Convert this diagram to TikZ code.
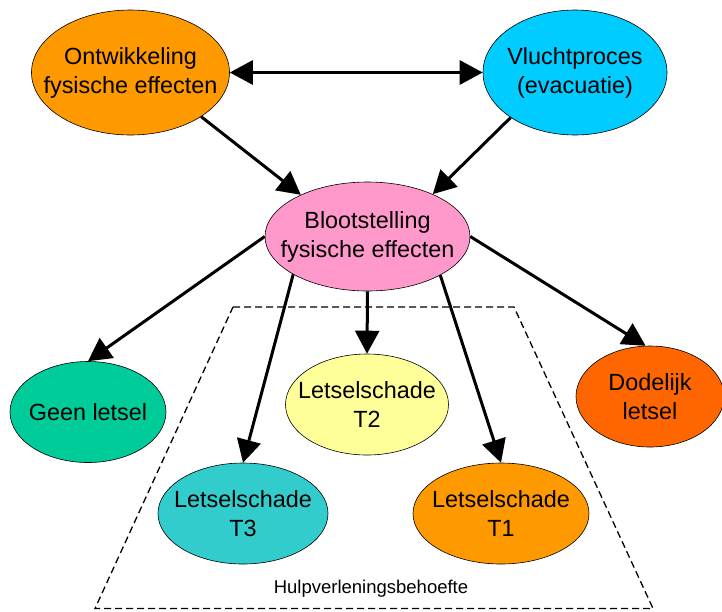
\documentclass[tikz,border=0pt]{standalone}
\usepackage{fontspec}
\setmainfont{Liberation Sans}
\usetikzlibrary{shapes.geometric,arrows.meta}
\definecolor{ontwcol}{RGB}{255,153,0}
\definecolor{vluchtcol}{RGB}{0,204,255}
\definecolor{blootcol}{RGB}{255,153,204}
\definecolor{geencol}{RGB}{0,204,153}
\definecolor{tweecol}{RGB}{255,255,153}
\definecolor{driecol}{RGB}{51,204,204}
\definecolor{eencol}{RGB}{255,153,0}
\definecolor{dodcol}{RGB}{255,102,0}
\begin{document}
\begin{tikzpicture}[x=1pt,y=-1pt]

    \tikzset{
      blob/.style={
        draw,
        line width=0.6pt,
        ellipse,
        inner sep=0pt,
        fill=#1,
      },
      blobtext/.style={
        align=center,
        inner sep=0pt,
        font=\fontsize{23.4}{29}\selectfont,
      },
      pijl/.style={
        line width=3pt,
        -{Triangle[length=23pt,width=24pt]},
      },
      dubbelpijl/.style={
        line width=3pt,
        {Triangle[length=23pt,width=24pt]}-{Triangle[length=23pt,width=24pt]},
      },
    }
    \useasboundingbox (0,0) rectangle (722,611);

	\draw[line width=1.3pt,dash pattern=on 7pt off 4pt] (233,307)--(514,307)--(653,608.5)--(95,608.5)--cycle;
	\node[font=\fontsize{18.5}{22}\selectfont] (hulp) at (371,589) {Hulpverleningsbehoefte};

	\node[blob=ontwcol,minimum width=198pt,minimum height=125pt] (ontw) at (130.5,72.5) {};
	\node[blobtext] (ontw-t) at (ontw) {Ontwikkeling\\fysische effecten};
	\node[blob=vluchtcol,minimum width=184pt,minimum height=125pt] (vlucht) at (575,72.5) {};
	\node[blobtext] (vlucht-t) at (vlucht) {Vluchtproces\\(evacuatie)};
	\node[blob=blootcol,minimum width=205pt,minimum height=109pt] (bloot) at (367.5,236.5) {};
	\node[blobtext] (bloot-t) at (bloot) {Blootstelling\\fysische effecten};
	\node[blob=geencol,minimum width=156pt,minimum height=101pt] (geen) at (88,412) {};
	\node[blobtext] (geen-t) at (geen) {Geen letsel};
	\node[blob=tweecol,minimum width=163pt,minimum height=101pt] (t2) at (367,404.5) {};
	\node[blobtext] (t2-t) at (t2) {Letselschade\\T2};
	\node[blob=driecol,minimum width=170pt,minimum height=101pt] (t3) at (243,513.5) {};
	\node[blobtext] (t3-t) at (t3) {Letselschade\\T3};
	\node[blob=eencol,minimum width=176pt,minimum height=101pt] (t1) at (501,513.5) {};
	\node[blobtext] (t1-t) at (t1) {Letselschade\\T1};
	\node[blob=dodcol,minimum width=148pt,minimum height=101pt] (dod) at (650,396.5) {};
	\node[blobtext] (dod-t) at (dod) {Dodelijk\\letsel};

	\draw[dubbelpijl] (ontw.east)--(vlucht.west);
	\draw[pijl] (ontw.-32.6)--(bloot.148.4);
	\draw[pijl] (vlucht.-145)--(bloot.33.4);
	\draw[pijl] (bloot.west)--(geen.north);
	\draw[pijl] (bloot.207.4)--(t3.north);
	\draw[pijl] (bloot.south)--(t2.north);
	\draw[pijl] (bloot.-28)--(t1.north);
	\draw[pijl] (bloot.east)--(dod.95);

\end{tikzpicture}
\end{document}
